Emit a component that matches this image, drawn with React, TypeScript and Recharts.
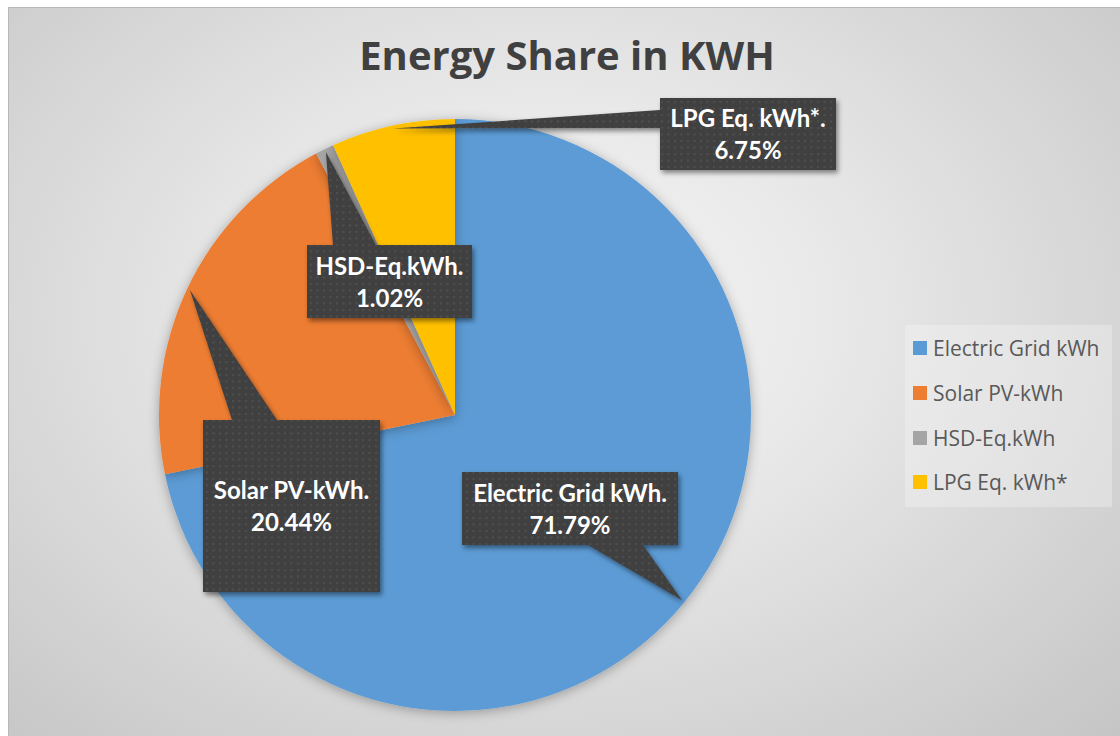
import { PieChart, Pie, Cell, Legend } from 'recharts';

const categories = ['Electric Grid kWh', 'Solar PV-kWh', 'HSD-Eq.kWh', 'LPG Eq. kWh*'];
const shares = [71.79, 20.44, 1.02, 6.75];
const colors = ['#5b9bd5', '#ed7d31', '#a5a5a5', '#ffc000'];

const chartData = categories.map((name, i) => ({ name, value: shares[i] }));

// callout boxes, relative to pie centre: [left, top, right, bottom], pointer base points
const callouts = [
    { box: [7, 57, 223, 130], base: [[133, 130], [188, 130]] },
    { box: [-252, 5, -75, 177], base: [[-223, 5], [-178, 5]] },
    { box: [-148, -170, 17, -97], base: [[-122, -170], [-79, -170]] },
    { box: [205, -317, 381, -245], base: [[205, -305], [205, -287]] },
];

const RAD = Math.PI / 180;

const renderCallout = (props: any) => {
    const { cx, cy, midAngle, outerRadius, index, percent } = props;
    const c = callouts[index];
    const tx = cx + outerRadius * 0.99 * Math.cos(-midAngle * RAD);
    const ty = cy + outerRadius * 0.99 * Math.sin(-midAngle * RAD);
    const [l, t, r, b] = c.box;
    const midX = cx + (l + r) / 2;
    const midY = cy + (t + b) / 2;
    const pct = percent != null ? (percent * 100).toFixed(2) : shares[index].toFixed(2);
    const pts = `${cx + c.base[0][0]},${cy + c.base[0][1]} ${tx},${ty} ${cx + c.base[1][0]},${cy + c.base[1][1]}`;
    return (
        <g key={`callout-${index}`}>
            <g filter="url(#calloutShadow)">
                <rect x={cx + l} y={cy + t} width={r - l} height={b - t} fill="url(#dots)" />
                <polygon points={pts} fill="url(#dots)" />
            </g>
            <text x={midX} y={midY - 7} textAnchor="middle" fill="#ffffff" fontFamily="Lato" fontWeight={700} fontSize={24}>
                {categories[index] + '.'}
            </text>
            <text x={midX} y={midY + 25} textAnchor="middle" fill="#ffffff" fontFamily="Lato" fontWeight={700} fontSize={24}>
                {pct}%
            </text>
        </g>
    );
};

// legend keeps the series order (recharts would sort it by name)
const renderLegend = () => (
    <div style={{ width: '100%', height: '100%', background: 'rgba(246,246,246,0.35)', paddingTop: 1, overflow: 'hidden' }}>
        {categories.map((name, i) => (
            <div key={name} style={{ display: 'flex', alignItems: 'center', height: 44.7 }}>
                <span style={{ width: 14, height: 14, background: colors[i], marginLeft: 8, marginRight: 6 }} />
                <span style={{ fontFamily: 'Open Sans', fontSize: 21, color: '#595959' }}>{name}</span>
            </div>
        ))}
    </div>
);

export default function App() {
    return (
        <div style={{ padding: '7px 0 0 8px' }}>
            <style>{'body{margin:0;overflow:hidden}'}</style>
            <div
                style={{
                    position: 'relative',
                    width: 1112,
                    height: 729,
                    borderTop: '1px solid #b8b8b8',
                    borderLeft: '1px solid #b8b8b8',
                    background:
                        'radial-gradient(ellipse farthest-corner at 48% 42%, #f5f5f5 0%, #e9e9e9 35%, #c5c5c5 100%)',
                }}
            >
                <svg width={1112} height={729} style={{ position: 'absolute', left: 0, top: 0 }}>
                    <defs>
                        <pattern id="dots" width={6.5} height={6.5} patternUnits="userSpaceOnUse">
                            <rect width={6.5} height={6.5} fill="#3f3f3f" />
                            <rect x={2} y={2} width={2} height={2} fill="#525252" />
                        </pattern>
                        <filter id="calloutShadow" x="-20%" y="-20%" width="140%" height="140%">
                            <feDropShadow dx={2} dy={3} stdDeviation={2.5} floodColor="#000" floodOpacity={0.45} />
                        </filter>
                        <filter id="pieShadow" x="-10%" y="-10%" width="120%" height="120%">
                            <feDropShadow dx={0} dy={2} stdDeviation={6} floodColor="#000" floodOpacity={0.3} />
                        </filter>
                    </defs>
                    <text x={558} y={62} textAnchor="middle" fill="#404040" fontFamily="Open Sans" fontWeight={700} fontSize={40}>
                        Energy Share in KWH
                    </text>
                </svg>
                <div style={{ position: 'absolute', left: 0, top: 0 }}>
                    <PieChart width={1112} height={729} margin={{ top: 0, right: 0, bottom: 0, left: 0 }}>
                        <Pie
                            data={chartData}
                            dataKey="value"
                            nameKey="name"
                            cx={446}
                            cy={407}
                            outerRadius={296}
                            startAngle={90}
                            endAngle={-270}
                            stroke="none"
                            label={renderCallout}
                            labelLine={false}
                            isAnimationActive={false}
                            style={{ filter: 'url(#pieShadow)' }}
                        >
                            {chartData.map((d, i) => (
                                <Cell key={d.name} fill={colors[i]} />
                            ))}
                        </Pie>
                        <Legend
                            content={renderLegend}
                            wrapperStyle={{ position: 'absolute', left: 896, top: 317, width: 207, height: 181 }}
                        />
                    </PieChart>
                </div>
            </div>
        </div>
    );
}
